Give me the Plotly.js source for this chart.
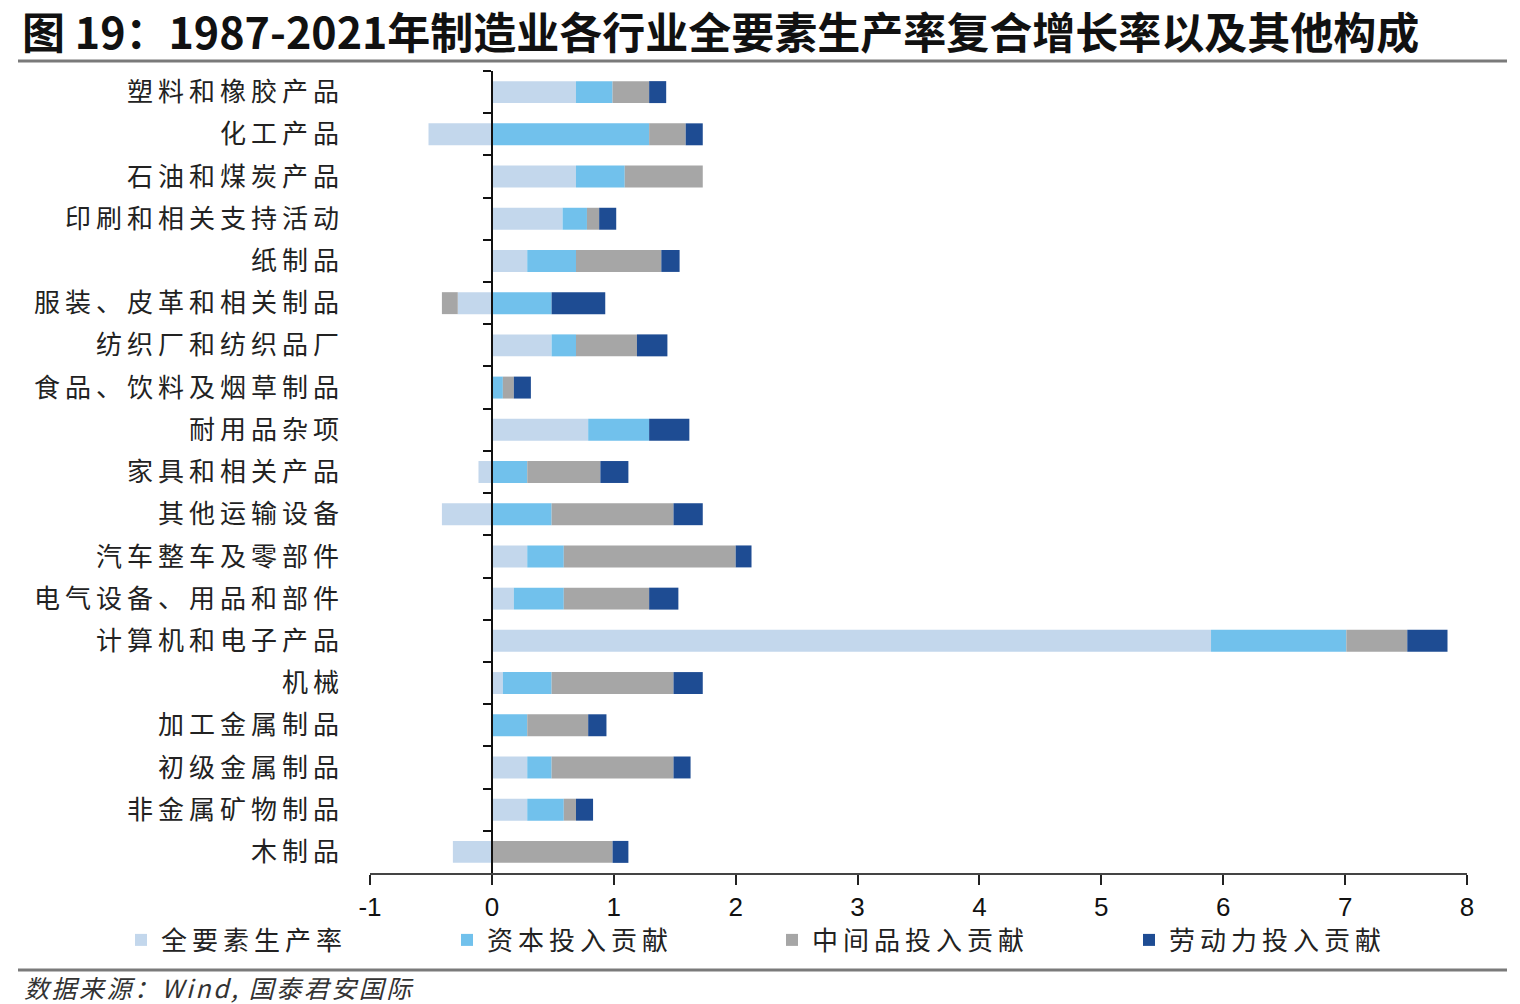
<!DOCTYPE html>
<html>
<head>
<meta charset="utf-8">
<script src="https://cdn.plot.ly/plotly-3.0.1.min.js"></script>
<style>
html,body{margin:0;padding:0;background:#fff;}
#chart{width:1520px;height:1004px;}
.ytick text{letter-spacing:5px;}
.annotation-text{letter-spacing:2.5px;}
.infolayer g[class^="legend"] text, .legendtext{letter-spacing:5px !important;}
</style>
</head>
<body>
<div id="chart"></div>
<script>
const categories = ['塑料和橡胶产品','化工产品','石油和煤炭产品','印刷和相关支持活动','纸制品','服装、皮革和相关制品','纺织厂和纺织品厂','食品、饮料及烟草制品','耐用品杂项','家具和相关产品','其他运输设备','汽车整车及零部件','电气设备、用品和部件','计算机和电子产品','机械','加工金属制品','初级金属制品','非金属矿物制品','木制品'];
const tfp = [0.69,-0.52,0.69,0.58,0.29,-0.28,0.49,0,0.79,-0.11,-0.41,0.29,0.18,5.9,0.09,0,0.29,0.29,-0.32];
const capital = [0.30,1.29,0.40,0.20,0.40,0.49,0.20,0.09,0.50,0.29,0.49,0.30,0.41,1.11,0.40,0.29,0.20,0.30,0];
const intermediate = [0.30,0.30,0.64,0.10,0.70,-0.13,0.50,0.09,0,0.60,1.00,1.41,0.70,0.50,1.00,0.50,1.00,0.10,0.99];
const labor = [0.14,0.14,0,0.14,0.15,0.44,0.25,0.14,0.33,0.23,0.24,0.13,0.24,0.33,0.24,0.15,0.14,0.14,0.13];
const seriesNames = ['全要素生产率','资本投入贡献','中间品投入贡献','劳动力投入贡献'];
const xTicks = [-1,0,1,2,3,4,5,6,7,8];

const colors = ['#C3D7EC','#71C1EC','#A6A6A6','#1E4C93'];
const seriesVals = [tfp, capital, intermediate, labor];
const CJK = '"Noto Sans CJK SC", "Noto Sans", sans-serif';
const legendIds = ['legend','legend2','legend3','legend4'];

const traces = seriesVals.map((v,i)=>({
  type:'bar', orientation:'h', name:seriesNames[i], x:v, y:categories,
  marker:{color:colors[i], line:{width:0}}, width:0.52, hoverinfo:'x+name', legend:legendIds[i]
}));
traces.push({
  type:'scatter', mode:'markers', x:categories.map(()=>0), y:categories, yaxis:'y2',
  marker:{opacity:0, size:1}, showlegend:false, hoverinfo:'skip'
});

const L=370, R=1467, T=71, B=873;
const px2x = p => (p-L)/(R-L);
const px2y = p => (B-p)/(B-T);

const legendX = [121, 447, 772, 1129];
const legendBase = {orientation:'h', xanchor:'left', y:px2y(940), yanchor:'middle',
  font:{family:CJK, size:26, color:'#222'}, itemwidth:30, bgcolor:'rgba(0,0,0,0)'};

const layout = {
  width:1520, height:1004,
  margin:{l:L, r:1520-R, t:T, b:1004-B, pad:0},
  paper_bgcolor:'#fff', plot_bgcolor:'#fff',
  barmode:'relative',
  font:{family:CJK, color:'#222'},
  title:{text:'图 19：1987-2021年制造业各行业全要素生产率复合增长率以及其他构成', x:22/1520, xref:'container', xanchor:'left', y:1-34/1004, yref:'container', yanchor:'middle', font:{family:CJK, size:43, weight:'bold', color:'#111'}},
  xaxis:{range:[-1,8], tickvals:xTicks, ticktext:xTicks.map(String), showgrid:false, zeroline:false,
    showline:true, linecolor:'#444', linewidth:2, ticks:'outside', ticklen:10, tickwidth:2, tickcolor:'#222',
    tickfont:{family:'"Liberation Sans", Arial, sans-serif', size:26, color:'#111'}, fixedrange:true, automargin:false},
  yaxis:{type:'category', categoryorder:'array', categoryarray:categories, range:[18.5,-0.5],
    showgrid:false, zeroline:false, showline:false, ticks:'', ticklabelstandoff:25,
    tickfont:{family:CJK, size:26, color:'#222'}, automargin:false},
  yaxis2:{type:'category', categoryorder:'array', categoryarray:categories, range:[18.5,-0.5],
    overlaying:'y', anchor:'free', position:1/9, side:'left', showgrid:false, zeroline:false,
    showline:true, linecolor:'#111', linewidth:2, ticks:'outside', tickson:'boundaries', ticklen:8, tickwidth:2, tickcolor:'#111',
    showticklabels:false, automargin:false},
  legend:Object.assign({}, legendBase, {x:px2x(legendX[0])}),
  legend2:Object.assign({}, legendBase, {x:px2x(legendX[1])}),
  legend3:Object.assign({}, legendBase, {x:px2x(legendX[2])}),
  legend4:Object.assign({}, legendBase, {x:px2x(legendX[3])}),
  shapes:[
    {type:'line', xref:'paper', yref:'paper', x0:px2x(18), x1:px2x(1507), y0:px2y(61), y1:px2y(61), line:{color:'#7a7a7a', width:3}},
    {type:'line', xref:'paper', yref:'paper', x0:px2x(18), x1:px2x(1507), y0:px2y(970), y1:px2y(970), line:{color:'#7a7a7a', width:3}}
  ],
  annotations:[
    {text:'<i>数据来源：Wind, 国泰君安国际</i>', xref:'paper', yref:'paper', x:px2x(22), xanchor:'left', y:px2y(987), yanchor:'middle', showarrow:false, font:{family:CJK, size:25, color:'#333'}}
  ]
};
function fixLegends(){
  document.querySelectorAll('.infolayer g[class^="legend"]').forEach(g=>{
    g.querySelectorAll('[clip-path]').forEach(el=>el.removeAttribute('clip-path'));
    if (g.hasAttribute('clip-path')) g.removeAttribute('clip-path');
  });
  document.querySelectorAll('.infolayer g[class^="legend"] text').forEach(t=>{ t.style.letterSpacing='5px'; });
}
Plotly.newPlot('chart', traces, layout, {displayModeBar:false, staticPlot:true}).then(()=>{
  fixLegends();
  setTimeout(fixLegends, 100);
  setTimeout(fixLegends, 400);
});
</script>
</body>
</html>
